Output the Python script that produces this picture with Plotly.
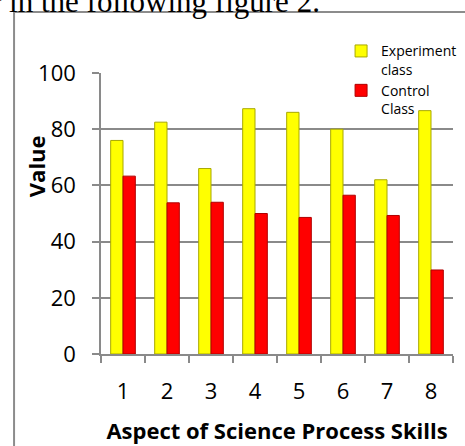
import plotly.graph_objects as go

categories = ["1", "2", "3", "4", "5", "6", "7", "8"]
experiment = [76, 82.5, 66, 87.3, 86, 80, 62, 86.6]
control = [63.3, 53.8, 54, 50, 48.6, 56.5, 49.3, 29.9]
y_ticks = [0, 20, 40, 60, 80, 100]

FONT = "Open Sans"
GRID = "#8a8a8a"

fig = go.Figure()
fig.add_trace(go.Bar(
    x=categories, y=experiment, name="Experiment<br>class",
    marker=dict(color="#FFFF00", line=dict(color="#A8A800", width=1)),
))
fig.add_trace(go.Bar(
    x=categories, y=control, name="Control<br>Class",
    marker=dict(color="#FF0000", line=dict(color="#B00000", width=1)),
))

fig.update_layout(
    width=465, height=446,
    margin=dict(l=101, r=12, t=73, b=92, autoexpand=False),
    paper_bgcolor="white", plot_bgcolor="white",
    barmode="group", bargap=0.44, bargroupgap=0,
    font=dict(family=FONT, color="#000000"),
    showlegend=True,
    legend=dict(
        x=0.682, xanchor="left", y=1.134, yanchor="top",
        bgcolor="rgba(0,0,0,0)", font=dict(size=14, family=FONT),
        valign="top", tracegroupgap=10, itemwidth=30,
    ),
    xaxis=dict(
        type="category", automargin=False, showgrid=False, showline=True, linecolor=GRID, linewidth=1.5,
        ticks="outside", tickson="boundaries", ticklen=7, tickcolor=GRID, tickwidth=1.5,
        tickfont=dict(size=22), ticklabelstandoff=17,
        title=dict(text="<b>Aspect of Science Process Skills</b>", font=dict(size=22), standoff=19),
    ),
    yaxis=dict(
        range=[0, 100], tickvals=y_ticks, automargin=False, showgrid=True, gridcolor=GRID, gridwidth=1.5,
        showline=True, linecolor=GRID, linewidth=1.5, zeroline=False,
        ticks="outside", ticklen=7, tickcolor=GRID, tickwidth=1.5,
        tickfont=dict(size=22), ticklabelstandoff=12,
    ),
    shapes=[
        dict(type="line", xref="paper", yref="paper", x0=-0.247, x1=1.2, y0=1.217, y1=1.217,
             line=dict(color="#8c8c8c", width=2)),
        dict(type="line", xref="paper", yref="paper", x0=-0.247, x1=-0.247, y0=1.217, y1=-0.4,
             line=dict(color="#8c8c8c", width=2)),
    ],
    annotations=[
        dict(text="r in the following figure 2.", xref="paper", yref="paper",
             x=-0.317, xanchor="left", y=1.256, yanchor="middle", showarrow=False,
             font=dict(family="Liberation Serif", size=31, color="#000000")),
        dict(text="<b>Value</b>", xref="paper", yref="paper", textangle=-90,
             x=(36 - 101) / 352, xanchor="center", y=(354 - 166) / 281.3, yanchor="middle",
             showarrow=False, font=dict(family=FONT, size=22, color="#000000")),
    ],
)

fig.write_html("out.html", config={"displayModeBar": False},
               post_script="document.body.style.margin='0';document.body.style.overflow='hidden';")
